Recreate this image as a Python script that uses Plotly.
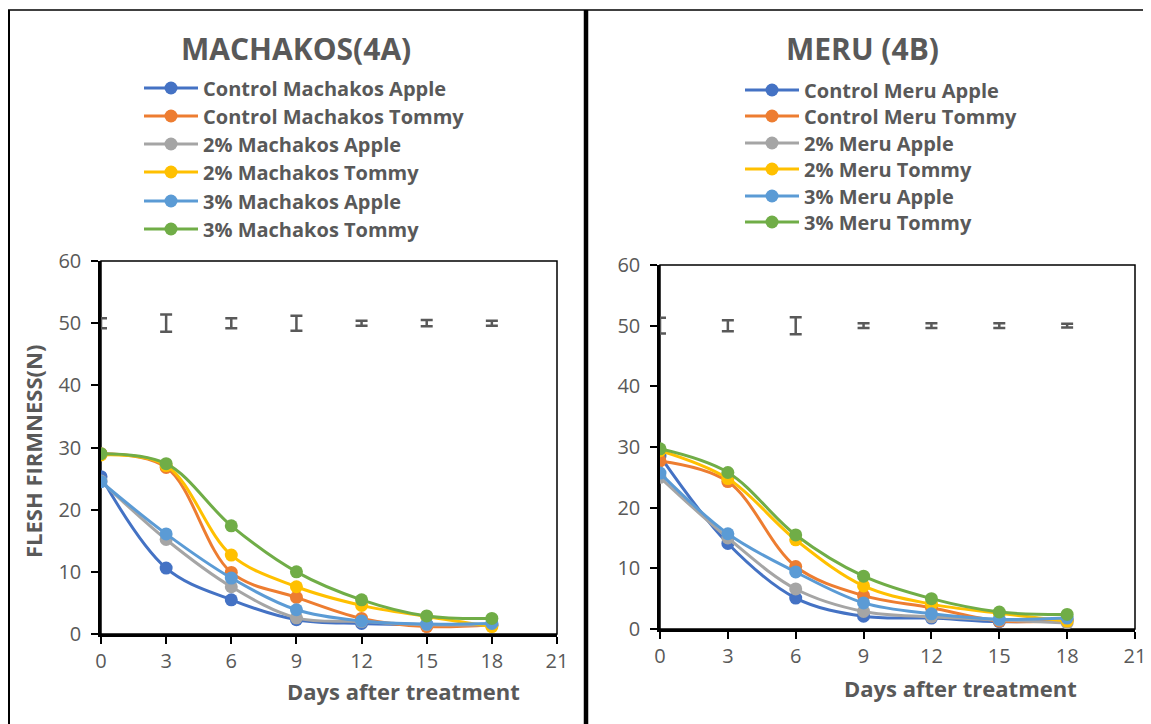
import plotly.graph_objects as go

days = [0, 3, 6, 9, 12, 15, 18]

# Machakos (4A)
mach_ctrl_apple = [25.3, 10.6, 5.5, 2.3, 1.7, 1.5, 1.4]
mach_ctrl_tommy = [29.0, 26.8, 9.9, 5.9, 2.5, 1.2, 1.5]
mach_2_apple = [24.6, 15.2, 7.6, 2.6, 2.0, 1.5, 1.5]
mach_2_tommy = [28.8, 27.1, 12.7, 7.6, 4.6, 2.8, 1.2]
mach_3_apple = [24.5, 16.1, 9.0, 3.9, 2.1, 1.6, 1.7]
mach_3_tommy = [29.0, 27.4, 17.4, 10.0, 5.5, 2.9, 2.5]
mach_err = [0.8, 1.4, 0.8, 1.2, 0.4, 0.5, 0.4]

# Meru (4B)
meru_ctrl_apple = [28.5, 14.1, 5.1, 2.1, 1.8, 1.2, 1.5]
meru_ctrl_tommy = [27.7, 24.3, 10.3, 5.5, 3.5, 1.3, 1.5]
meru_2_apple = [25.0, 15.0, 6.6, 2.9, 2.0, 1.5, 1.0]
meru_2_tommy = [29.4, 24.8, 14.7, 7.1, 4.1, 2.6, 1.3]
meru_3_apple = [25.7, 15.7, 9.4, 4.3, 2.5, 1.6, 1.8]
meru_3_tommy = [29.7, 25.8, 15.5, 8.7, 5.0, 2.8, 2.4]
meru_err = [1.3, 0.9, 1.4, 0.4, 0.4, 0.4, 0.3]

err_level = [50] * len(days)

mach_names = ["Control Machakos Apple", "Control Machakos Tommy", "2% Machakos Apple",
              "2% Machakos Tommy", "3% Machakos Apple", "3% Machakos Tommy"]
meru_names = ["Control Meru Apple", "Control Meru Tommy", "2% Meru Apple",
              "2% Meru Tommy", "3% Meru Apple", "3% Meru Tommy"]
colors = ["#4472C4", "#ED7D31", "#A5A5A5", "#FFC000", "#5B9BD5", "#70AD47"]

mach_series = [mach_ctrl_apple, mach_ctrl_tommy, mach_2_apple, mach_2_tommy, mach_3_apple, mach_3_tommy]
meru_series = [meru_ctrl_apple, meru_ctrl_tommy, meru_2_apple, meru_2_tommy, meru_3_apple, meru_3_tommy]

# page places the figure at (8, 8) because of the default body margin
OX, OY = 8, 8
FW, FH = 1143, 716
FONT = "Open Sans"
GREY = "#595959"


def px(x):
    return (x - OX) / FW


def py(y):
    return 1 - (y - OY) / FH


# legend row centres (screen pixels)
mach_rows = [88, 116, 144, 172, 201, 229]
meru_rows = [90, 116, 143, 169, 196, 222]

fig = go.Figure()
layout_legends = {}
leg_idx = 1
for xa, ya, names, series, err, rows, lx in [
    ("x", "y", mach_names, mach_series, mach_err, mach_rows, 139),
    ("x2", "y2", meru_names, meru_series, meru_err, meru_rows, 740),
]:
    fig.add_trace(go.Scatter(
        x=days, y=err_level, xaxis=xa, yaxis=ya, mode="markers",
        marker=dict(size=1, opacity=0), showlegend=False, hoverinfo="skip",
        error_y=dict(type="data", array=err, visible=True, color=GREY, thickness=2.5, width=6),
    ))
    for name, vals, col, ry in zip(names, series, colors, rows):
        key = "legend" if leg_idx == 1 else f"legend{leg_idx}"
        fig.add_trace(go.Scatter(
            x=days, y=vals, xaxis=xa, yaxis=ya, name=name, legend=key,
            mode="lines+markers",
            line=dict(color=col, width=3, shape="spline", smoothing=1.0),
            marker=dict(color=col, size=13),
        ))
        layout_legends[key] = dict(
            x=px(lx), y=py(ry), xanchor="left", yanchor="middle", bgcolor="rgba(0,0,0,0)",
            font=dict(family=FONT, size=20, color=GREY, weight="bold"), itemwidth=54,
        )
        leg_idx += 1

axis_common = dict(
    showline=True, linecolor="black", linewidth=2.5, ticks="outside", tickcolor="black",
    tickwidth=2, ticklen=7, showgrid=False, zeroline=False, automargin=False,
    tickfont=dict(family=FONT, size=20, color=GREY),
)

fig.update_layout(
    width=FW, height=FH, autosize=False,
    margin=dict(l=0, r=0, t=0, b=0, pad=0, autoexpand=False),
    paper_bgcolor="white", plot_bgcolor="white",
    xaxis=dict(domain=[px(101), px(557)], range=[0, 21], tickvals=[0, 3, 6, 9, 12, 15, 18, 21],
               anchor="y", **axis_common),
    yaxis=dict(domain=[py(634), py(261)], range=[0, 60], tickvals=[0, 10, 20, 30, 40, 50, 60],
               anchor="x", ticklabelstandoff=6, **axis_common),
    xaxis2=dict(domain=[px(660), px(1135)], range=[0, 21], tickvals=[0, 3, 6, 9, 12, 15, 18, 21],
                anchor="y2", **axis_common),
    yaxis2=dict(domain=[py(629), py(265)], range=[0, 60], tickvals=[0, 10, 20, 30, 40, 50, 60],
                anchor="x2", ticklabelstandoff=6, **axis_common),
    showlegend=True,
    **layout_legends,
)

annots = [
    dict(text="MACHAKOS(4A)", x=px(296), y=py(48), size=30),
    dict(text="MERU (4B)", x=px(862), y=py(48), size=30),
    dict(text="Days after treatment", x=px(403), y=py(691), size=22),
    dict(text="Days after treatment", x=px(960), y=py(688), size=22),
]
for a in annots:
    fig.add_annotation(text=a["text"], x=a["x"], y=a["y"], xref="paper", yref="paper",
                       showarrow=False, xanchor="center", yanchor="middle",
                       font=dict(family=FONT, size=a["size"], color=GREY, weight="bold"))
fig.add_annotation(text="FLESH FIRMNESS(N)", x=px(33), y=py(452), xref="paper", yref="paper",
                   showarrow=False, textangle=-90, xanchor="center", yanchor="middle",
                   font=dict(family=FONT, size=22, color=GREY, weight="bold"))

shapes = [
    # plot-area boxes (top/right)
    dict(type="rect", xref="x domain", yref="y domain", x0=0, x1=1, y0=0, y1=1,
         line=dict(color="black", width=1.5), layer="below"),
    dict(type="rect", xref="x2 domain", yref="y2 domain", x0=0, x1=1, y0=0, y1=1,
         line=dict(color="black", width=1.5), layer="below"),
    # outer panel borders
    dict(type="line", xref="paper", yref="paper", x0=px(9), x1=px(9), y0=0, y1=py(10),
         line=dict(color="black", width=2)),
    dict(type="line", xref="paper", yref="paper", x0=px(8), x1=1, y0=py(10), y1=py(10),
         line=dict(color="black", width=1.5)),
    dict(type="line", xref="paper", yref="paper", x0=px(586), x1=px(586), y0=0, y1=py(10),
         line=dict(color="black", width=4.5)),
]
fig.update_layout(shapes=shapes)

fig.write_html("out.html")
